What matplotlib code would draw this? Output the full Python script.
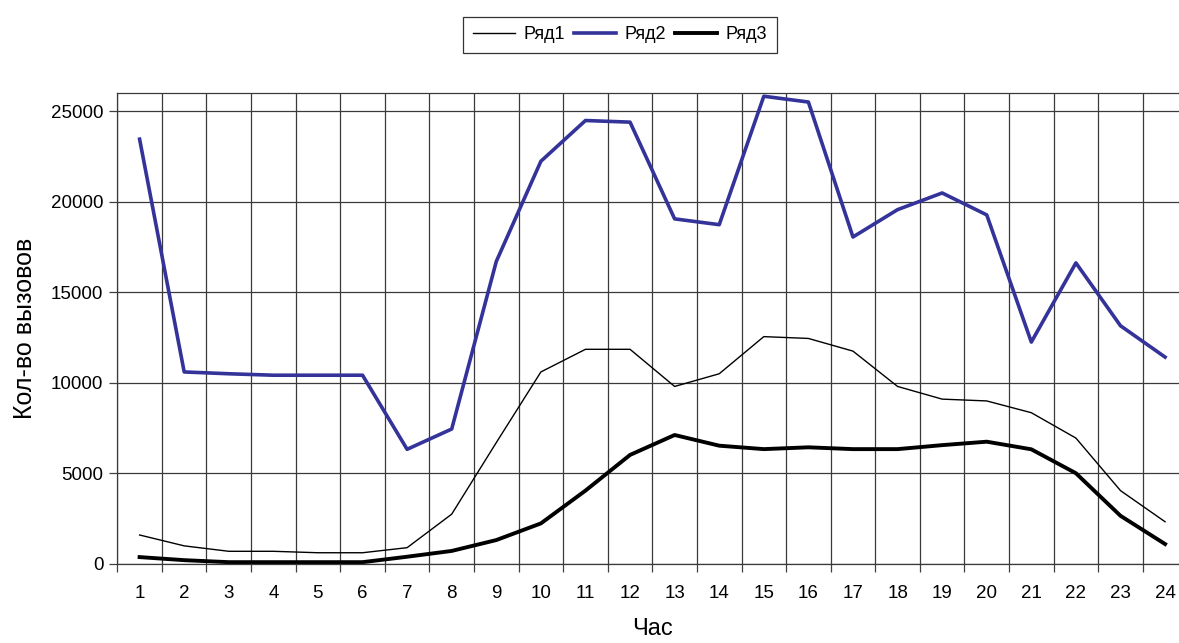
import numpy as np
import matplotlib.pyplot as plt
from matplotlib.ticker import MultipleLocator

plt.rcParams['font.family'] = ['Liberation Sans', 'DejaVu Sans']

# hours 1..24
hours = np.arange(1, 25)

ryad1 = [1600, 1000, 700, 700, 620, 620, 900, 2750, 6700, 10600, 11850, 11850,
         9800, 10500, 12550, 12450, 11750, 9800, 9100, 9000, 8350, 6950, 4050, 2330]
ryad2 = [23450, 10600, 10500, 10420, 10420, 10420, 6330, 7450, 16700, 22230, 24480, 24390,
         19050, 18730, 25820, 25500, 18050, 19560, 20480, 19270, 12250, 16620, 13150, 11420]
ryad3 = [380, 210, 100, 100, 100, 100, 400, 720, 1320, 2240, 4050, 6020,
         7120, 6530, 6340, 6440, 6340, 6340, 6560, 6750, 6330, 5010, 2660, 1100]

fig = plt.figure(figsize=(11.79, 6.43), dpi=100)
ax = fig.add_axes([0.0995, 0.1229, 0.9076, 0.7325])

ax.plot(hours, ryad1, color='black', lw=1.0, label='Ряд1')
ax.plot(hours, ryad2, color='#333399', lw=2.6, label='Ряд2')
ax.plot(hours, ryad3, color='black', lw=2.8, label='Ряд3')

ax.set_xlim(0.5, 24.5)
ax.set_ylim(0, 26000)

ax.set_xticks(hours)
ax.set_xticks(np.arange(0.5, 25, 1), minor=True)
ax.yaxis.set_major_locator(MultipleLocator(5000))
ax.tick_params(axis='x', which='major', length=0, pad=15, labelsize=13.5)
ax.tick_params(axis='x', which='minor', length=6, width=0.9, color='#404040', direction='out')
ax.tick_params(axis='y', which='major', length=6, width=0.9, color='#404040', labelsize=13.5, pad=4)

ax.grid(True, axis='x', which='minor', color='#3a3a3a', lw=0.9)
ax.grid(True, axis='y', which='major', color='#3a3a3a', lw=0.9)
ax.set_axisbelow(True)

for s in ['left', 'bottom', 'top', 'right']:
    ax.spines[s].set_color('#3a3a3a')
    ax.spines[s].set_linewidth(0.9)

ax.set_ylabel('Кол-во вызовов', fontsize=18, labelpad=10)
ax.set_xlabel('Час', fontsize=17, labelpad=12)

leg = fig.legend(loc='center', bbox_to_anchor=(0.526, 0.9456), ncol=3, fontsize=13,
                 frameon=True, fancybox=False, edgecolor='black', handlelength=2.3,
                 handletextpad=0.5, columnspacing=0.5, borderpad=0.55)
leg.get_frame().set_linewidth(0.9)

fig.savefig('out.png', dpi=100)
